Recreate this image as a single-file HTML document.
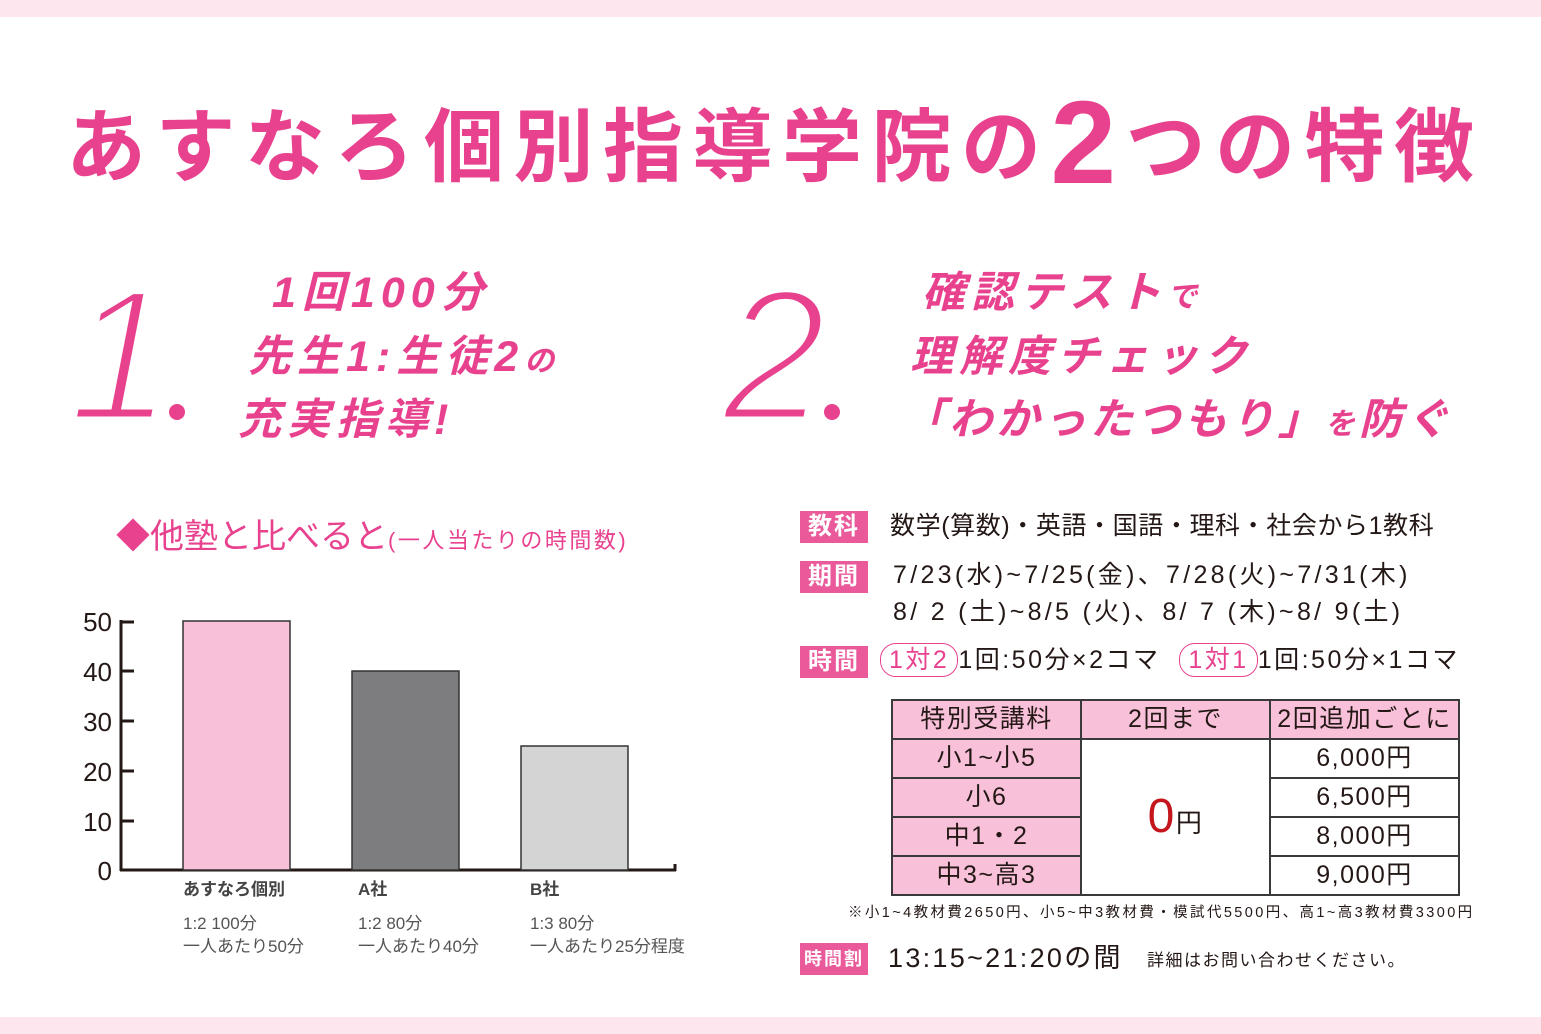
<!DOCTYPE html>
<html><head><meta charset="utf-8"><style>
*{margin:0;padding:0;box-sizing:border-box}
body{width:1541px;height:1034px;position:relative;background:#fff;overflow:hidden;font-family:"Liberation Sans","Noto Sans CJK JP",sans-serif;color:#231815}
.a{position:absolute;white-space:nowrap;line-height:1}
.pk{color:#e8428f}
.it{font-style:italic;font-weight:bold;color:#e8428f;font-size:43px;letter-spacing:6px}
.bd{position:absolute;background:#ea5a9b;color:#fff;font-weight:bold;font-size:24px;line-height:32px;text-align:center;width:68px;height:32px;letter-spacing:2px}
.tx{font-size:25px;letter-spacing:0.6px}
table{position:absolute;left:891px;top:699px;border-collapse:collapse}
td{border:2px solid #3a3a3a;width:189px;height:39px;text-align:center;font-size:25px;letter-spacing:1.5px;line-height:1}
.p{background:#f9c1d9}
.gl{font-size:17px;color:#555;line-height:23px}
.yl{font-size:26px;width:30px;text-align:right;left:82px;color:#231815}
</style></head><body>
<div class="a" style="left:0;top:0;width:1541px;height:17px;background:#fde6ee"></div>
<div class="a" style="left:0;top:1017px;width:1541px;height:17px;background:#fde6ee"></div>

<div class="a pk" style="left:66px;top:76px;font-size:80px;font-weight:bold;letter-spacing:9.5px">あすなろ個別指導学院の<span style="font-size:118px;position:relative;top:8px">2</span>つの特徴</div>

<svg class="a" style="left:0;top:240px" width="900" height="200">
<g font-family="Liberation Sans, sans-serif" font-style="italic" font-size="188" fill="#e8428f" stroke="#fff" stroke-width="7">
<text x="68" y="180">1</text>
<text x="722" y="180">2</text>
</g>
<circle cx="177" cy="172" r="8" fill="#e8428f"/>
<circle cx="832" cy="172" r="8" fill="#e8428f"/>
</svg>
<div class="a it" style="left:272px;top:272px">1回100分</div>
<div class="a it" style="left:248px;top:336px">先生1:生徒2<span style="font-size:30px">の</span></div>
<div class="a it" style="left:238px;top:399px">充実指導!</div>

<div class="a it" style="left:922px;top:272px">確認テスト<span style="font-size:30px">で</span></div>
<div class="a it" style="left:910px;top:336px">理解度チェック</div>
<div class="a it" style="left:902px;top:399px;letter-spacing:4px">「わかったつもり」<span style="font-size:30px">を</span>防ぐ</div>

<div class="a pk" style="left:116px;top:520px;font-size:34px">◆他塾と比べると<span style="font-size:22px;letter-spacing:2.5px">(一人当たりの時間数)</span></div>

<svg class="a" style="left:0;top:0" width="720" height="900">
<g stroke="#231815" stroke-width="3">
<line x1="121" y1="620" x2="121" y2="871"/>
<line x1="120" y1="870" x2="676" y2="870"/>
<line x1="120" y1="622" x2="134" y2="622"/><line x1="120" y1="671" x2="134" y2="671"/>
<line x1="120" y1="721" x2="134" y2="721"/><line x1="120" y1="771" x2="134" y2="771"/>
<line x1="120" y1="821" x2="134" y2="821"/><line x1="675" y1="864" x2="675" y2="871"/>
</g>
<rect x="183" y="621" width="107" height="249" fill="#f9c0da" stroke="#333" stroke-width="1.5"/>
<rect x="352" y="671" width="107" height="199" fill="#7d7d7f" stroke="#333" stroke-width="1.5"/>
<rect x="521" y="746" width="107" height="124" fill="#d4d4d4" stroke="#333" stroke-width="1.5"/>
</svg>
<div class="a yl" style="top:609px">50</div>
<div class="a yl" style="top:659px">40</div>
<div class="a yl" style="top:709px">30</div>
<div class="a yl" style="top:759px">20</div>
<div class="a yl" style="top:809px">10</div>
<div class="a yl" style="top:858px">0</div>

<div class="a" style="left:183px;top:881px;font-size:17px;font-weight:bold;color:#444">あすなろ個別</div>
<div class="a gl" style="left:183px;top:912px">1:2 100分<br>一人あたり50分</div>
<div class="a" style="left:358px;top:881px;font-size:17px;font-weight:bold;color:#444">A社</div>
<div class="a gl" style="left:358px;top:912px">1:2 80分<br>一人あたり40分</div>
<div class="a" style="left:530px;top:881px;font-size:17px;font-weight:bold;color:#444">B社</div>
<div class="a gl" style="left:530px;top:912px">1:3 80分<br>一人あたり25分程度</div>

<div class="bd" style="left:800px;top:511px">教科</div>
<div class="a tx" style="left:890px;top:514px">数学(算数)・英語・国語・理科・社会から1教科</div>
<div class="bd" style="left:800px;top:561px">期間</div>
<div class="a tx" style="left:893px;top:563px;letter-spacing:3.3px">7/23(水)~7/25(金)、7/28(火)~7/31(木)</div>
<div class="a tx" style="left:893px;top:600px;letter-spacing:3.3px">8/ 2 (土)~8/5 (火)、8/ 7 (木)~8/ 9(土)</div>
<div class="bd" style="left:800px;top:646px">時間</div>
<div class="a tx" style="left:880px;top:648px;letter-spacing:2.5px"><span style="color:#e8428f;border:1.5px solid #e8428f;border-radius:16px;padding:2px 8px">1対2</span>1回:50分×2コマ&nbsp;&nbsp;<span style="color:#e8428f;border:1.5px solid #e8428f;border-radius:16px;padding:2px 8px">1対1</span>1回:50分×1コマ</div>

<table>
<tr><td class="p">特別受講料</td><td class="p">2回まで</td><td class="p">2回追加ごとに</td></tr>
<tr><td class="p">小1~小5</td><td rowspan="4"><span style="color:#c4161c;font-size:48px">0</span><span style="font-size:26px">円</span></td><td>6,000円</td></tr>
<tr><td class="p">小6</td><td>6,500円</td></tr>
<tr><td class="p">中1・2</td><td>8,000円</td></tr>
<tr><td class="p">中3~高3</td><td>9,000円</td></tr>
</table>
<div class="a" style="left:848px;top:906px;font-size:14.5px;letter-spacing:2.4px">※小1~4教材費2650円、小5~中3教材費・模試代5500円、高1~高3教材費3300円</div>
<div class="bd" style="left:800px;top:943px;font-size:18px">時間割</div>
<div class="a" style="left:888px;top:945px;font-size:27px;letter-spacing:2.3px">13:15~21:20の間</div>
<div class="a" style="left:1147px;top:952px;font-size:17px;letter-spacing:1.5px">詳細はお問い合わせください。</div>
</body></html>
